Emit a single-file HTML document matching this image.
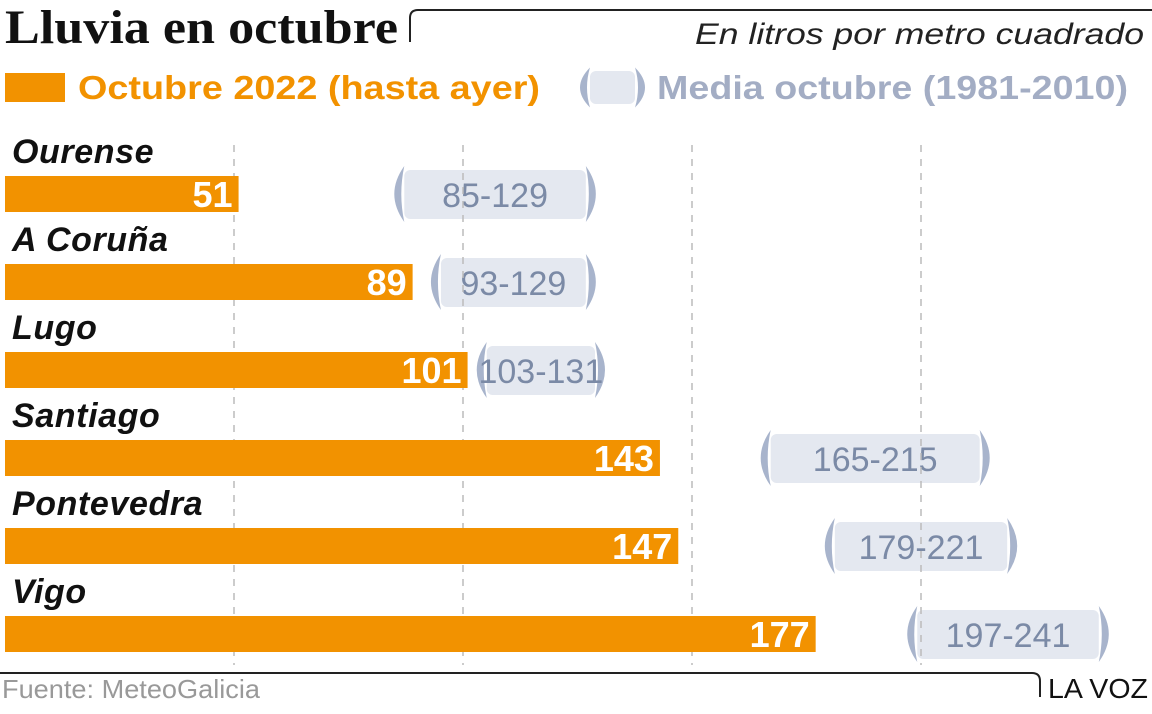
<!DOCTYPE html>
<html><head><meta charset="utf-8"><style>
body{margin:0;background:#fff;width:1152px;height:709px;overflow:hidden;font-family:"Liberation Sans",sans-serif}
</style></head><body>
<svg width="1152" height="709" xmlns="http://www.w3.org/2000/svg">
<text x="5" y="43" font-family="Liberation Serif" font-weight="bold" font-size="48" textLength="393" lengthAdjust="spacingAndGlyphs" fill="#111">Lluvia en octubre</text>
<path d="M410,42 L410,18 Q410,10 418,10 L1152,10" fill="none" stroke="#222" stroke-width="2"/>
<text x="1144" y="44" text-anchor="end" font-style="italic" font-size="30" textLength="449" lengthAdjust="spacingAndGlyphs" fill="#222">En litros por metro cuadrado</text>
<rect x="5" y="73" width="60" height="29" fill="#f29200"/>
<text x="78" y="99" font-weight="bold" font-size="33" textLength="462" lengthAdjust="spacingAndGlyphs" fill="#f29200">Octubre 2022 (hasta ayer)</text>
<g id="legpill"></g>
<text x="657" y="99" font-weight="bold" font-size="33" textLength="471" lengthAdjust="spacingAndGlyphs" fill="#a3adc4">Media octubre (1981-2010)</text>
<g id="bands"></g><g id="grid"></g><g id="bars"></g>
<path d="M0,673 L1032,673 Q1040,673 1040,681 L1040,697" fill="none" stroke="#222" stroke-width="2"/>
<text x="2" y="698" font-size="26" textLength="258" lengthAdjust="spacingAndGlyphs" fill="#999">Fuente: MeteoGalicia</text>
<text x="1148" y="698" text-anchor="end" font-size="28" textLength="100" lengthAdjust="spacingAndGlyphs" fill="#111">LA VOZ</text>
</svg>
<script>
const cities=["Ourense","A Coruña","Lugo","Santiago","Pontevedra","Vigo"];
const values=[51,89,101,143,147,177];
const rangeLow=[85,93,103,165,179,197];
const rangeHigh=[129,129,131,215,221,241];
const gridTicks=[50,100,150,200];
const NS="http://www.w3.org/2000/svg";
const x=v=>5+v*4.58;
const rowY=i=>176+i*88;
function mk(tag,attrs,parent){const e=document.createElementNS(NS,tag);for(const k in attrs)e.setAttribute(k,attrs[k]);parent.appendChild(e);return e;}
const col="#a8b4cc";
function parens(g,x1,x2,yc,h){
  const t=h/2;
  mk("path",{d:`M${x1+10},${yc-t} Q${x1-10},${yc} ${x1+10},${yc+t} Q${x1+4},${yc} ${x1+10},${yc-t}Z`,fill:col},g);
  mk("path",{d:`M${x2-10},${yc-t} Q${x2+10},${yc} ${x2-10},${yc+t} Q${x2-4},${yc} ${x2-10},${yc-t}Z`,fill:col},g);
}
const lp=document.getElementById("legpill");
mk("rect",{x:590,y:71,width:45,height:33,rx:6,fill:"#e4e8f0"},lp);
parens(lp,580,645,87.5,40);
const grid=document.getElementById("grid");
gridTicks.forEach(t=>{const l=mk("line",{x1:x(t),x2:x(t),y1:145,y2:665,stroke:"#bbb","stroke-width":1.5,"stroke-dasharray":"7,7"},grid);

});
const bands=document.getElementById("bands"),bars=document.getElementById("bars");
cities.forEach((c,i)=>{
  const y=rowY(i);
  const lab=mk("text",{x:12,y:y-13,"font-weight":"bold","font-style":"italic","font-size":34,"letter-spacing":0.6,fill:"#111"},bars);lab.textContent=c;
  
  
  const r=mk("rect",{x:5,y:y,width:x(values[i])-5,height:36,fill:"#f29200"},bars);
  
  
  const vt=mk("text",{x:x(values[i])-6,y:y+31,"text-anchor":"end","font-weight":"bold","font-size":36,fill:"#fff"},bars);vt.textContent=values[i];
  
  
  const g=mk("g",{},bands);
  
  
  const a=x(rangeLow[i]),b=x(rangeHigh[i]);
  mk("rect",{x:a+10,y:y-6,width:b-a-20,height:49,rx:6,fill:"#e4e8f0"},g);
  parens(g,a,b,y+18,56);
  const rt=mk("text",{x:(a+b)/2,y:y+31,"text-anchor":"middle","font-size":34,fill:"#7b8aa6"},bands);rt.textContent=rangeLow[i]+"-"+rangeHigh[i];
  
  
});
</script>
</body></html>
